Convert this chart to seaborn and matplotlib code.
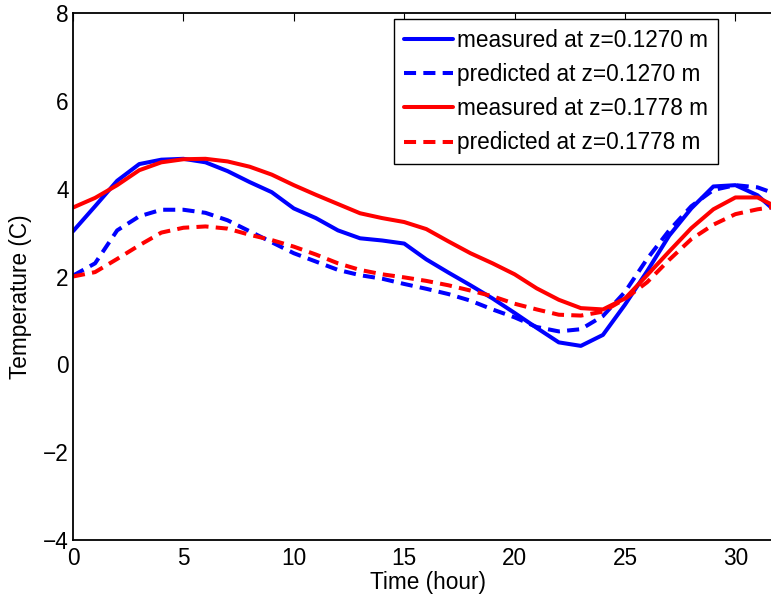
import numpy as np
import pandas as pd
import matplotlib
matplotlib.use("Agg")
import matplotlib.pyplot as plt
import seaborn as sns

# time in hours
hours = list(range(0, 33))

meas_0127 = [3.03, 3.60, 4.18, 4.56, 4.66, 4.68, 4.60, 4.40, 4.15, 3.92, 3.55,
             3.33, 3.05, 2.87, 2.82, 2.75, 2.39, 2.09, 1.80, 1.50, 1.17, 0.83,
             0.50, 0.42, 0.67, 1.36, 2.12, 2.93, 3.55, 4.05, 4.08, 3.85, 3.40]
pred_0127 = [2.02, 2.30, 3.05, 3.37, 3.52, 3.52, 3.45, 3.28, 3.03, 2.78, 2.53,
             2.34, 2.15, 2.03, 1.95, 1.83, 1.72, 1.60, 1.45, 1.25, 1.07, 0.85,
             0.75, 0.80, 1.10, 1.65, 2.40, 3.05, 3.60, 3.97, 4.08, 4.03, 3.85]
meas_0178 = [3.57, 3.79, 4.08, 4.42, 4.60, 4.67, 4.68, 4.62, 4.50, 4.32, 4.08,
             3.86, 3.65, 3.44, 3.33, 3.24, 3.08, 2.80, 2.53, 2.30, 2.05, 1.73,
             1.47, 1.28, 1.25, 1.50, 2.03, 2.57, 3.10, 3.53, 3.80, 3.80, 3.55]
pred_0178 = [2.00, 2.10, 2.40, 2.71, 3.00, 3.11, 3.14, 3.09, 2.95, 2.83, 2.68,
             2.50, 2.30, 2.15, 2.05, 1.98, 1.90, 1.80, 1.68, 1.55, 1.38, 1.25,
             1.13, 1.11, 1.20, 1.49, 1.87, 2.38, 2.85, 3.18, 3.42, 3.53, 3.60]

series = [
    ("measured at z=0.1270 m", meas_0127, "#0000ff", "-"),
    ("predicted at z=0.1270 m", pred_0127, "#0000ff", "--"),
    ("measured at z=0.1778 m", meas_0178, "#ff0000", "-"),
    ("predicted at z=0.1778 m", pred_0178, "#ff0000", "--"),
]

FS = 16.3

sns.set_style("white")
plt.rcParams["font.family"] = ["Liberation Sans", "DejaVu Sans"]
plt.rcParams["font.size"] = FS
plt.rcParams["text.color"] = "black"
plt.rcParams["axes.labelcolor"] = "black"

fig = plt.figure(figsize=(7.71, 6.01), dpi=100)
# axes runs slightly past the right edge of the figure (cropped like the original)
ax = fig.add_axes([73 / 771, 61 / 601, 706.6 / 771, 527 / 601])

for label, vals, col, ls in series:
    df = pd.DataFrame({"Time": hours, "Temp": vals})
    sns.lineplot(data=df, x="Time", y="Temp", ax=ax, color=col, linewidth=2.9,
                 label=label, legend=False)
    line = ax.lines[-1]
    if ls == "--":
        line.set_dashes((3.0, 1.8))
        line.set_dash_capstyle("butt")

ax.set_xlim(0, 32)
ax.set_ylim(-4, 8)
ax.set_xticks([0, 5, 10, 15, 20, 25, 30])
ax.set_yticks([-4, -2, 0, 2, 4, 6, 8])
ax.set_yticklabels(["\u22124", "\u22122", "0", "2", "4", "6", "8"])
ax.tick_params(direction="in", length=6, width=0.8, top=True, right=True,
               labelsize=FS, pad=3, colors="black")
ax.tick_params(axis="x", pad=5)
for sp in ax.spines.values():
    sp.set_visible(True)
    sp.set_color("black")
    sp.set_linewidth(1.3)

ax.set_xlabel("Time (hour)", fontsize=FS, color="black")
ax.set_ylabel("Temperature (C)", fontsize=FS, color="black")
ax.xaxis.set_label_coords(0.502, -0.058)
ax.yaxis.set_label_coords(-0.058, 0.461)

leg = ax.legend(loc="upper right", bbox_to_anchor=(718 / 771, 1 - 19 / 601),
                bbox_transform=fig.transFigure, borderaxespad=0, fancybox=False,
                framealpha=1, edgecolor="black", fontsize=FS, handlelength=2.15,
                handletextpad=0.22, labelspacing=0.5, borderpad=0.42)
leg.get_frame().set_linewidth(1.0)
for t in leg.get_texts():
    t.set_color("black")

plt.savefig("out.png", dpi=100)
plt.close()
